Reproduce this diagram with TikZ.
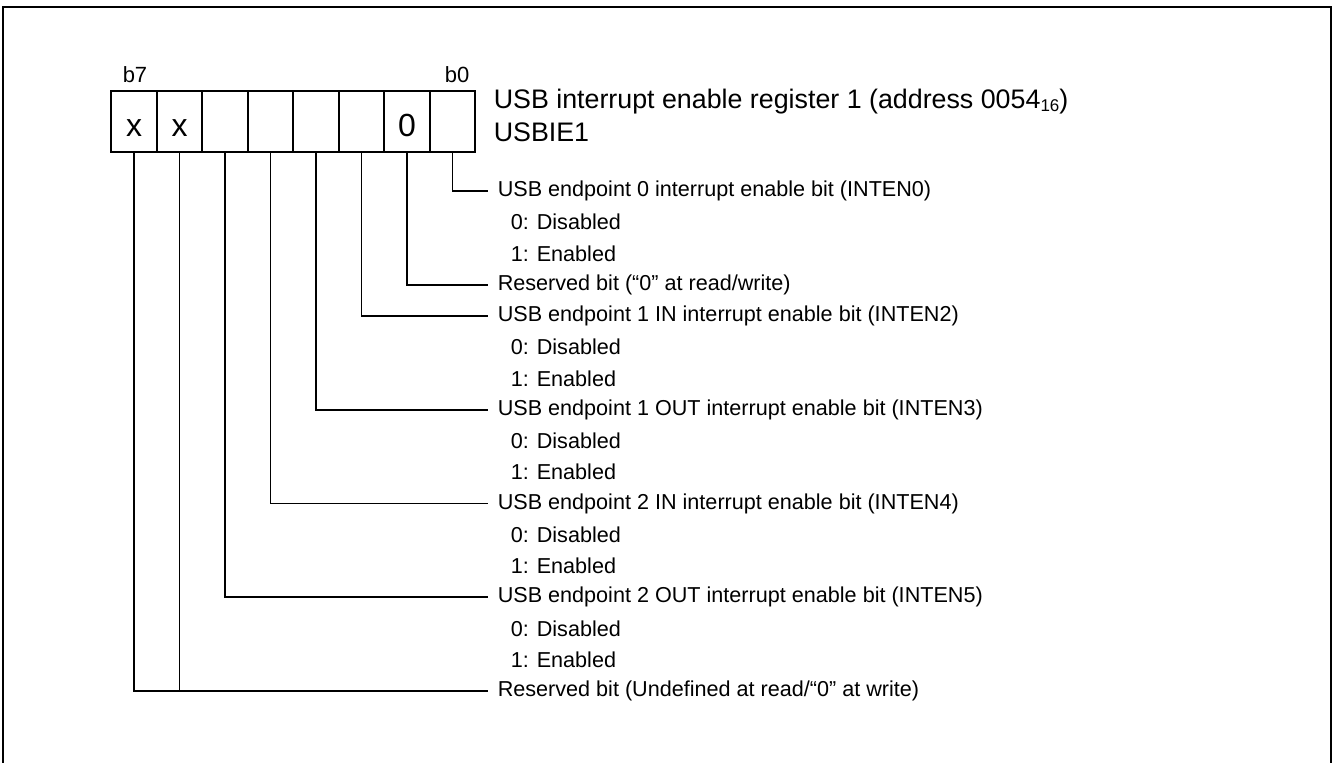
\documentclass[tikz,border=0pt]{standalone}
\usepackage{fontspec}
\setmainfont{Liberation Sans}
\begin{document}
\begin{tikzpicture}[x=0.5pt,y=-0.5pt,line width=0.8pt,
  cell/.style={draw,minimum width=22.75pt,minimum height=30.5pt,inner sep=0pt,outer sep=0pt,text height=14.5pt,text depth=0pt,font=\fontsize{16}{16}\selectfont},
  lbl/.style={anchor=west,inner xsep=4.5pt,inner ysep=0pt,font=\fontsize{10.8}{13}\selectfont},
  sub/.style={anchor=west,inner sep=0pt,font=\fontsize{10.8}{13}\selectfont},
  hdr/.style={anchor=west,inner sep=0pt,font=\fontsize{13.4}{16}\selectfont},
  bitlbl/.style={inner sep=0pt,font=\fontsize{11}{13}\selectfont},
  conn/.style={line width=0.8pt}]
\useasboundingbox (0,0) rectangle (1333,762);
\draw[line width=1pt] (3,775) -- (3,7) -- (1331,7) -- (1331,775);
% register cells
\foreach \b/\t [count=\i from 0] in {7/x,6/x,5/,4/,3/,2/,1/0,0/}{
  \pgfmathsetmacro{\cx}{134+45.5*\i}
  \node[cell] (c\b) at (\cx,121.5) {\t};
}
\node[bitlbl] (b7) at (135,75) {b7};
\node[bitlbl] (b0) at (457,75) {b0};
\node[hdr] (title) at (493,102) {USB interrupt enable register 1 (address 0054\raisebox{-0.2ex}{\fontsize{8.5}{9}\selectfont 16})};
\node[hdr] (name) at (493,132) {USBIE1};
% labels
\node[lbl] (t0) at (488,191) {USB endpoint 0 interrupt enable bit (INTEN0)};
\node[sub] (s1) at (510,222.25) {0: Disabled};
\node[sub] (s2) at (510,253.5) {1: Enabled};
\node[lbl] (t1) at (488,284.75) {Reserved bit (“0” at read/write)};
\node[lbl] (t2) at (488,316) {USB endpoint 1 IN interrupt enable bit (INTEN2)};
\node[sub] (s5) at (510,347.25) {0: Disabled};
\node[sub] (s6) at (510,378.5) {1: Enabled};
\node[lbl] (t3) at (488,409.75) {USB endpoint 1 OUT interrupt enable bit (INTEN3)};
\node[sub] (s8) at (510,441) {0: Disabled};
\node[sub] (s9) at (510,472.25) {1: Enabled};
\node[lbl] (t4) at (488,503.5) {USB endpoint 2 IN interrupt enable bit (INTEN4)};
\node[sub] (s11) at (510,534.75) {0: Disabled};
\node[sub] (s12) at (510,566) {1: Enabled};
\node[lbl] (t5) at (488,597.25) {USB endpoint 2 OUT interrupt enable bit (INTEN5)};
\node[sub] (s14) at (510,628.5) {0: Disabled};
\node[sub] (s15) at (510,659.75) {1: Enabled};
\node[lbl] (t7) at (488,691) {Reserved bit (Undefined at read/“0” at write)};
% connectors
\foreach \b in {0,1,2,3,4,5,7}{
  \draw[conn] (c\b.south) |- (t\b.west);
}
\draw[conn] (c6.south) -- (c6.south |- t7.west);
\end{tikzpicture}
\end{document}
